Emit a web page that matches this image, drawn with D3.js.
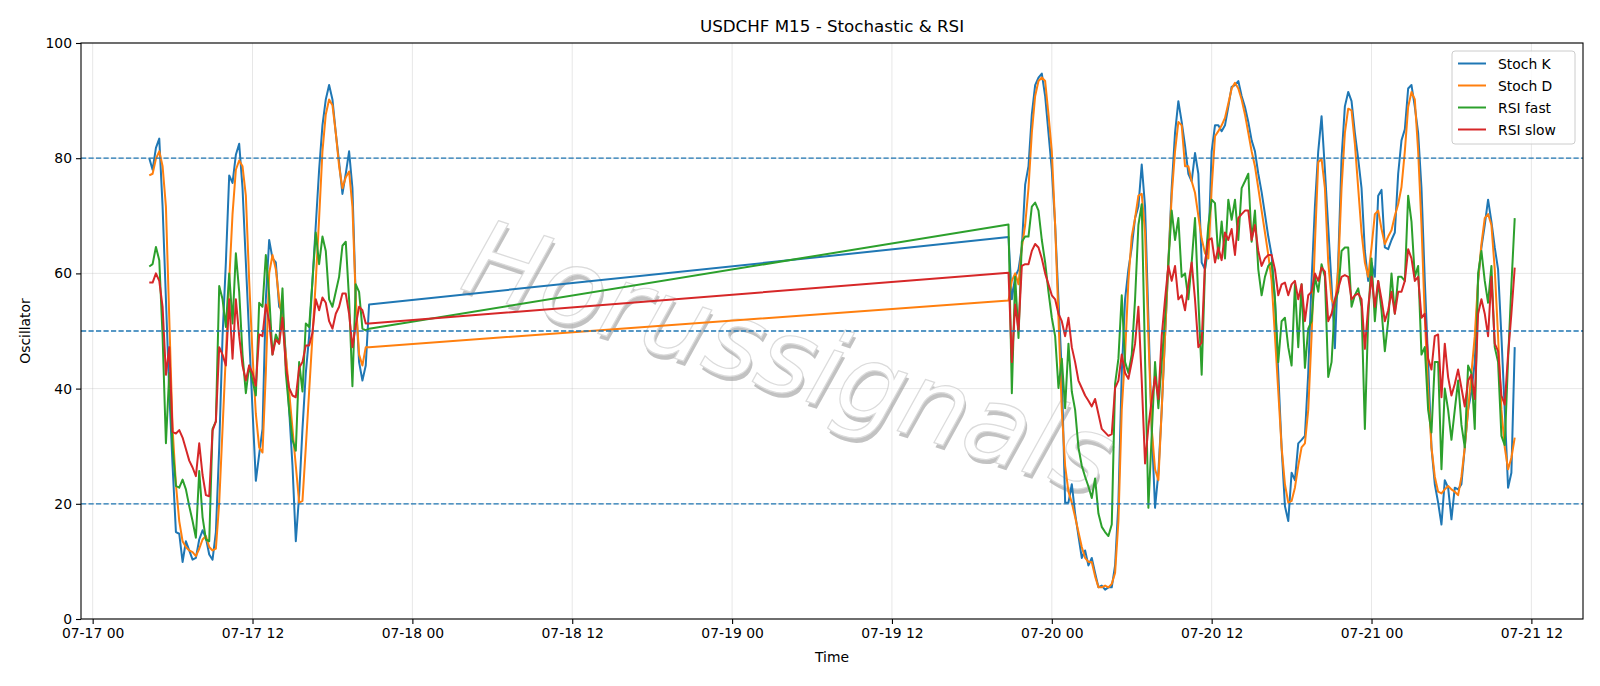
<!DOCTYPE html>
<html>
<head>
<meta charset="utf-8">
<script src="https://cdnjs.cloudflare.com/ajax/libs/d3/7.8.5/d3.min.js"></script>
<style>
  body { margin: 0; background: #ffffff; }
  text { font-family: "DejaVu Sans", sans-serif; }
</style>
</head>
<body>
<script>
// two trading blocks of M15 bars (friday, then sunday night onwards)
var fridayStart = "2020-07-17T04:15:00Z";
var sundayStart = "2020-07-19T20:45:00Z";

var stochK_fri = [80, 78, 81.8, 83.4, 71.6, 55.5, 39.5, 26.6, 15.1, 14.8, 9.9, 13.5, 11.9, 10.3, 10.6, 13.8, 15.4, 14.1, 11.2, 10.3, 15.1, 29.8, 49.1, 61.9, 77, 75.7, 80.6, 82.5, 74.8, 61.9, 49.1, 36.3,
  24, 28.6, 33, 55.5, 65.8, 62.6, 61.9, 54.2, 53.6, 45.9, 36.3, 26.6, 13.5, 21.5, 33, 42.7, 49.1, 58.7, 68.4, 78, 85.7, 90.2, 92.7, 90.2, 84.4, 79.3, 73.8, 77.3, 81.2, 74.8, 55.5, 44.6, 41.4, 44, 54.6];
var stochD_fri = [77, 77.3, 79.9, 81.2, 78.6, 71.6, 52.3, 33, 23.4, 17, 13.5, 12.5, 11.9, 11.6, 10.9, 12.2, 13.8, 14.4, 12.5, 11.9, 12.2, 20.2, 33, 45.9, 58.7, 70.3, 78, 79.6, 78.6, 73.5, 58.7, 45.9,
  35.6, 29.8, 28.9, 42.7, 60, 63.2, 60.7, 55.5, 51.7, 45.9, 39.5, 33, 26.6, 20.2, 20.5, 29.8, 39.5, 49.1, 58.7, 69.6, 81.2, 87.6, 90.2, 89.2, 84.4, 78.6, 74.8, 76.7, 77.7, 71.6, 55.5, 45.9, 44, 47.2, 47.2];
var rsiFast_fri = [61.2, 61.6, 64.6, 62.3, 49.1, 30.5, 42.7, 29.8, 23.1, 22.8, 24.2, 22.5, 19.6, 17, 14.1, 25.7, 17.7, 13.8, 13.5, 33, 34.3, 57.8, 55.5, 50.7, 60, 51.3, 63.5, 56.8, 45.9, 39.2, 44, 41.4,
  38.8, 54.9, 54.2, 63.2, 56.2, 45.9, 49.4, 47.8, 57.4, 42.7, 36.3, 31.1, 29.2, 44.6, 39.5, 51.3, 50.7, 58.7, 67.1, 61.6, 66.4, 63.9, 55.5, 54.2, 56.8, 59.4, 64.8, 65.5, 55.5, 40.4, 58.1, 56.8, 50.4, 50.1, 50.4];
var rsiSlow_fri = [58.4, 58.4, 60, 58.7, 54.2, 42.4, 47.2, 32.5, 32.2, 32.8, 31.5, 29.5, 27.5, 26.3, 24.8, 30.5, 25, 21.5, 21.3, 32.7, 34.3, 47.2, 45.9, 44, 55.5, 45.2, 55.5, 49.1, 44, 41.4, 44, 42.7,
  40.5, 49.4, 49.1, 54.6, 51.7, 45.9, 48.5, 47.8, 52.3, 44, 40.1, 38.8, 38.5, 43.6, 44.6, 47.5, 47.5, 49.7, 55.5, 53.6, 55.8, 54.9, 51.7, 50.4, 53, 54.2, 56.5, 56.5, 53, 47.2, 51, 54.2, 53.6, 51.3, 51.3];

var stochK_sun = [66.3, 55.5, 59.4, 60.7, 64.5, 75.4, 78.6, 87.6, 92.7, 94, 94.7, 90.8, 84.4, 78, 68.4, 55.5, 42.7, 20.2, 20.2, 23.4, 18.3, 14.4, 10.6, 11.9, 9.3, 10.6, 8, 5.5, 5.8,
  5.1, 5.5, 5.5, 9.3, 20.2, 42.7, 55.5, 60.7, 64.5, 69.6, 71.6, 78.9, 71.6, 52.3, 33, 19.3, 25.4, 36.3, 49.1, 61.9, 74.8, 84.4, 89.9, 86.3, 82.2, 77.3, 76, 80.9, 77.3, 61.9,
  60.7, 64.5, 81.2, 85.7, 85.7, 84.7, 85.7, 88.9, 92.4, 92.7, 93.4, 90.8, 88.9, 86.3, 83.1, 81.2, 77.3, 74.1, 70.3, 66.4, 63.2, 55.5, 42.7, 29.8, 19.6, 17, 25.4, 24.1, 30.5, 31.1,
  31.8, 42.7, 58.7, 71.6, 81.2, 87.3, 78, 68, 58, 47, 62, 80, 89, 91.5, 89.9, 84.4, 79.9, 74.8, 63.9, 58.7, 61.9, 59.4, 73.5, 74.5, 64.5, 64.2, 65.8, 67.1, 77.3,
  83.1, 85, 92.1, 92.7, 88.9, 84.4, 74.8, 58.7, 44.6, 29.8, 23.4, 20.2, 16.4, 24.1, 22.8, 17.3, 22.8, 22.5, 23.4, 29.8, 36.3, 39.5, 44.6, 58.7, 64.5, 68.4, 72.8, 69, 64.5, 60.7, 49.1, 36.3, 22.8, 25.4, 47.2];
var stochD_sun = [55.3, 58.7, 60, 58.1, 64.5, 68.4, 74.8, 84.4, 90.8, 93.4, 94, 93.4, 87.6, 81.2, 68.4, 52.3, 36.3, 26.6, 22.1, 20.2, 17.7, 15.1, 12.5, 10.6, 9.9, 9.9, 7.4, 5.5, 5.5,
  5.8, 5.5, 6.1, 8, 17, 36.3, 45.9, 58.7, 66.4, 69.6, 73.5, 73.8, 67.1, 49.1, 33, 26, 24.1, 36.3, 49.1, 61.9, 73.5, 81.2, 86.3, 85.7, 78.6, 78.6, 76, 74, 70, 66,
  63.5, 62.6, 74.8, 83.8, 84.7, 85.7, 87, 89.5, 92.1, 93.1, 92.1, 90.2, 87.6, 84.4, 81.2, 78.6, 74.8, 70.9, 67.1, 63.2, 58.7, 49.1, 39.5, 29.8, 23.4, 20.2, 20.5, 22.8, 26.6, 29.8,
  30.5, 36.3, 49.1, 65.1, 79.3, 79.9, 74.8, 61.9, 55.5, 54.2, 60.7, 74.8, 84.4, 88.6, 88.3, 82.5, 74.8, 67.1, 61.9, 59.4, 64.5, 70.3, 70.9, 67.7, 65.1, 66.4, 67.5, 70, 72,
  75, 81.2, 88.9, 91.5, 90.2, 81.2, 68.4, 52.3, 39.5, 29.8, 24.7, 22.1, 21.8, 22.5, 23.1, 22.5, 22.1, 21.5, 24.7, 29.8, 36.3, 42.7, 49.1, 58.7, 65.1, 69.6, 70.3, 68.4, 60.7, 49.1, 36.3, 29.8, 26, 28, 31.5];
var rsiFast_sun = [68.5, 39.2, 59.4, 48.8, 65.5, 66.4, 66.4, 71.6, 72.3, 70.9, 65.8, 61.9, 56.8, 52.3, 49.1, 40.1, 45.2, 36.6, 47.8, 39.5, 36.3, 29.8, 26.6, 24.7, 23, 21, 24.4, 18.3, 16,
  15.1, 14.4, 16.4, 40.8, 45.2, 56.2, 44.6, 42.7, 45.9, 55.5, 68.4, 72, 45, 19.3, 32, 44.6, 36.6, 44.5, 52.3, 61.9, 70.9, 65.8, 69.6, 59.4, 60, 55.5, 61.9, 69.6, 55.5, 42.4,
  60.7, 68.4, 72.8, 72.2, 62.6, 69, 62.6, 72.8, 69.3, 72.8, 65.8, 74.8, 76, 77.3, 65.5, 70.9, 60.7, 56.2, 59.4, 61.3, 61.9, 55.5, 44.6, 51.7, 52.3, 47.2, 44, 58.1, 47.2, 58.1,
  43.6, 50.4, 51.7, 59.4, 56.8, 61.6, 59.4, 42, 44.6, 54.9, 56.8, 63.9, 64.5, 64.5, 54.2, 56.2, 57.4, 54.2, 33, 52.3, 62.6, 51.7, 58.7, 53.6, 46.5, 51.7, 60, 53, 59.4,
  59.4, 58.7, 73.5, 69, 59.4, 61.3, 45.9, 47.2, 36.3, 32.4, 44.6, 44.6, 26, 40, 36.3, 31.1, 36.3, 41.4, 33.7, 29.8, 44, 42.7, 33, 60, 63.9, 58.7, 54.9, 61.3, 47.2, 44.6, 31.8, 30.2, 45, 58, 69.6];
var rsiSlow_sun = [60.1, 44.6, 54.6, 50.1, 61.3, 61.6, 61.6, 63.9, 65.1, 64.5, 62.6, 60, 58.1, 56.2, 55.5, 53, 51.7, 49.1, 52.3, 47.2, 44.6, 41.4, 40.1, 38.8, 37.9, 36.9, 38.2, 35.6, 33,
  32.4, 31.8, 32.1, 40.1, 41.4, 45.9, 42.7, 41.7, 44.6, 47.8, 54.2, 41.4, 27, 33.4, 38, 42, 38.2, 49.1, 55.5, 61.3, 58.7, 61.3, 55.5, 56.2, 53.6, 58.1, 61.9, 55.5, 47.2, 48,
  61.9, 65.8, 66.1, 61.9, 64.5, 62.3, 67.1, 65.8, 67.7, 63.2, 69.6, 70.3, 70.9, 70.9, 65.8, 68.4, 63.9, 61.3, 62.6, 63.2, 63.2, 60.7, 56.2, 58.1, 58.4, 56.2, 58.1, 58.7, 55.5, 58.1,
  51.7, 56.2, 56.8, 60, 58.7, 61, 60.3, 51.7, 53, 55.5, 57.4, 59.4, 59.7, 59.4, 55.5, 56.2, 56.5, 55.5, 46.9, 54.2, 59.4, 54.2, 58.7, 55.5, 51.7, 53.6, 56.8, 53, 56.8,
  56.8, 58.7, 64.2, 62.6, 58.7, 59.4, 52.3, 53, 45.2, 43.3, 49.1, 49.4, 38.5, 47.8, 42, 38.8, 40.8, 43.3, 40.1, 36.9, 41.4, 42.4, 38.2, 53, 55.5, 53, 49.1, 59.4, 47.8, 46.5, 38.8, 37.2, 45.9, 53, 61];

var seriesNames = ["Stoch K", "Stoch D", "RSI fast", "RSI slow"];
var seriesColors = ["#1f77b4", "#ff7f0e", "#2ca02c", "#d62728"];
var yTicks = [0, 20, 40, 60, 80, 100];
var levels = [20, 50, 80];

// bar times, 15 minutes apart inside each block
function barTimes(start, n) {
  var t0 = new Date(start);
  var out = [];
  for (var i = 0; i < n; i++) {
    out.push(d3.utcMinute.offset(t0, 15 * i));
  }
  return out;
}

var times = barTimes(fridayStart, stochK_fri.length).concat(barTimes(sundayStart, stochK_sun.length));
var series = [
  stochK_fri.concat(stochK_sun),
  stochD_fri.concat(stochD_sun),
  rsiFast_fri.concat(rsiFast_sun),
  rsiSlow_fri.concat(rsiSlow_sun)
];

var W = 1600, H = 686;
var pL = 81, pT = 43, pR = 1583, pB = 619;   // plot box (window.top is reserved, so no "top")

var svg = d3.select('body')
  .append('svg')
  .attr('width', W)
  .attr('height', H);

// matplotlib style 5% padding on time axis
var tFirst = times[0], tLast = times[times.length - 1];
var pad = (tLast - tFirst) * 0.05;
var x = d3.scaleUtc()
  .domain([new Date(+tFirst - pad), new Date(+tLast + pad)])
  .range([pL, pR]);
var y = d3.scaleLinear()
  .domain([0, 100])
  .range([pB, pT]);

var xTicks = x.ticks(d3.utcHour.every(12));

// grid
svg.append('g')
  .selectAll('line')
  .data(xTicks)
  .enter()
  .append('line')
  .attr('x1', function(d) { return x(d); })
  .attr('x2', function(d) { return x(d); })
  .attr('y1', pT)
  .attr('y2', pB)
  .style('stroke', '#b0b0b0')
  .style('stroke-opacity', 0.3)
  .style('stroke-width', 1);

svg.append('g')
  .selectAll('line')
  .data(yTicks)
  .enter()
  .append('line')
  .attr('x1', pL)
  .attr('x2', pR)
  .attr('y1', function(d) { return y(d); })
  .attr('y2', function(d) { return y(d); })
  .style('stroke', '#b0b0b0')
  .style('stroke-opacity', 0.3)
  .style('stroke-width', 1);

// watermark, under the lines
var wm = svg.append('g')
  .attr('transform', 'translate(458,288) rotate(18)')
  .style('opacity', 0.6);
wm.append('text')
  .attr('x', 3)
  .attr('y', 4)
  .style('font-size', '105px')
  .style('font-style', 'italic')
  .style('fill', '#9a9a9a')
  .text('Horussignals');
wm.append('text')
  .attr('x', 0)
  .attr('y', 0)
  .style('font-size', '105px')
  .style('font-style', 'italic')
  .style('fill', '#ffffff')
  .style('stroke', '#c4c4c4')
  .style('stroke-width', 1.2)
  .text('Horussignals');

// the oscillator lines
var line = d3.line()
  .x(function(d, i) { return x(times[i]); })
  .y(function(d) { return y(d); });

svg.append('g')
  .selectAll('path')
  .data(series)
  .enter()
  .append('path')
  .attr('d', line)
  .style('fill', 'none')
  .style('stroke', function(d, i) { return seriesColors[i]; })
  .style('stroke-width', 2)
  .style('stroke-linejoin', 'round');

// 20 / 50 / 80 levels
svg.append('g')
  .selectAll('line')
  .data(levels)
  .enter()
  .append('line')
  .attr('x1', pL)
  .attr('x2', pR)
  .attr('y1', function(d) { return y(d); })
  .attr('y2', function(d) { return y(d); })
  .style('stroke', '#1f77b4')
  .style('stroke-width', 1.3)
  .style('stroke-dasharray', '5.2,2.3');

// axes
svg.append('g')
  .attr('transform', 'translate(0,' + pB + ')')
  .call(d3.axisBottom(x).tickValues(xTicks).tickFormat(d3.utcFormat('%m-%d %H')).tickSizeOuter(0).tickSize(5).tickPadding(4));
svg.append('g')
  .attr('transform', 'translate(' + pL + ',0)')
  .call(d3.axisLeft(y).tickValues(yTicks).tickSizeOuter(0).tickSize(5).tickPadding(4));

svg.selectAll('.domain').remove();
svg.selectAll('.tick text')
  .style('font-family', '"DejaVu Sans", sans-serif')
  .style('font-size', '13.9px')
  .style('fill', '#000');
svg.selectAll('.tick line')
  .style('stroke', '#000')
  .style('stroke-width', 1.1);

// frame
svg.append('rect')
  .attr('x', pL)
  .attr('y', pT)
  .attr('width', pR - pL)
  .attr('height', pB - pT)
  .style('fill', 'none')
  .style('stroke', '#000')
  .style('stroke-width', 1.1);

// title and labels
svg.append('text')
  .attr('x', (pL + pR) / 2)
  .attr('y', 32)
  .attr('text-anchor', 'middle')
  .style('font-size', '16.7px')
  .text('USDCHF M15 - Stochastic & RSI');
svg.append('text')
  .attr('x', (pL + pR) / 2)
  .attr('y', 662)
  .attr('text-anchor', 'middle')
  .style('font-size', '13.9px')
  .text('Time');
svg.append('text')
  .attr('transform', 'translate(30,' + ((pT + pB) / 2) + ') rotate(-90)')
  .attr('text-anchor', 'middle')
  .style('font-size', '13.9px')
  .text('Oscillator');

// legend
var lg = svg.append('g');
lg.append('rect')
  .attr('x', 1452)
  .attr('y', 51)
  .attr('width', 123)
  .attr('height', 93)
  .attr('rx', 3)
  .style('fill', '#ffffff')
  .style('fill-opacity', 0.8)
  .style('stroke', '#cccccc')
  .style('stroke-width', 1);
var rows = lg.selectAll('g.row')
  .data(seriesNames)
  .enter()
  .append('g')
  .attr('class', 'row')
  .attr('transform', function(d, i) { return 'translate(0,' + (63.5 + i * 22) + ')'; });
rows.append('line')
  .attr('x1', 1458)
  .attr('x2', 1486)
  .style('stroke', function(d, i) { return seriesColors[i]; })
  .style('stroke-width', 2);
rows.append('text')
  .attr('x', 1498)
  .attr('y', 5)
  .style('font-size', '13.9px')
  .text(function(d) { return d; });
</script>
</body>
</html>
